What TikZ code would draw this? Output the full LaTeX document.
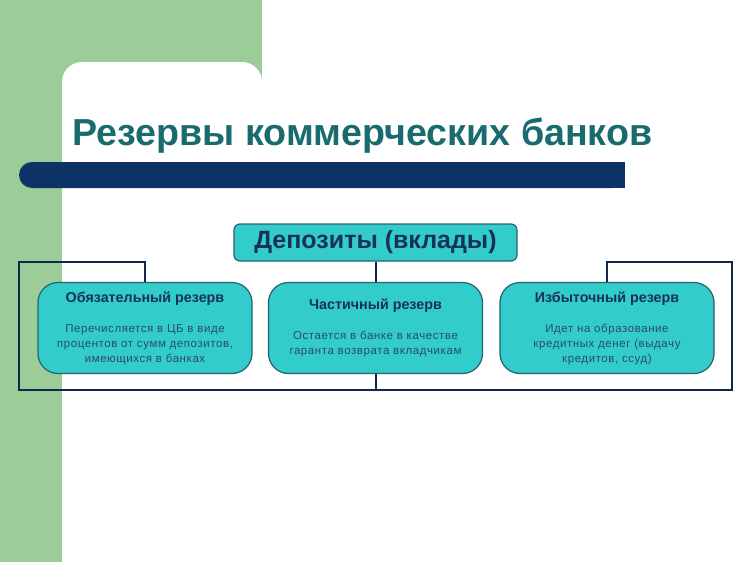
\documentclass[tikz,border=0pt]{standalone}
\usepackage{fontspec}
\setmainfont{Liberation Sans}
\definecolor{greenbg}{HTML}{9CCC98}
\definecolor{barcol}{HTML}{0B3366}
\definecolor{titlecol}{HTML}{1A6B6E}
\definecolor{boxfill}{HTML}{33CCCC}
\definecolor{boxline}{HTML}{2A6068}
\definecolor{linecol}{HTML}{10284A}
\definecolor{headcol}{HTML}{173158}
\definecolor{bodycol}{HTML}{2A4A70}
\begin{document}
\begin{tikzpicture}[x=1pt,y=-1pt,
    link/.style={draw=linecol,line width=2pt},
    reserve/.style={shape=rectangle,rounded corners=20pt,draw=boxline,line width=1.2pt,fill=boxfill,
      minimum width=214pt,minimum height=91pt,align=center,text=bodycol,
      font=\fontsize{11.5}{15}\selectfont\addfontfeature{LetterSpace=5}}]
        \useasboundingbox (0,0) rectangle (750,562);
        \fill[greenbg] (0,0) rectangle (262,82);
        \fill[greenbg] (0,0) rectangle (62,562);
        \fill[white,rounded corners=20pt] (62,62) rectangle (262,120);
        \node[anchor=base west,text=titlecol,font=\fontsize{37.6}{40}\selectfont\bfseries] (title) at (69,145) {Резервы коммерческих банков};
        \fill[barcol,rounded corners=13pt] (19,162) rectangle (625,188);
        \fill[barcol] (45,162) rectangle (625,188);
        \node[shape=rectangle,rounded corners=6pt,draw=boxline,line width=1.2pt,fill=boxfill,
          minimum width=283pt,minimum height=37pt,text=headcol,font=\fontsize{25}{27}\selectfont\bfseries] (dep) at (375.5,242.5) {Депозиты (вклады)};
        \node[reserve] (obyaz) at (145,328) {{\color{headcol}\fontsize{14.3}{16}\selectfont\bfseries\addfontfeature{LetterSpace=0} Обязательный резерв}\\[15pt]
          Перечисляется в ЦБ в виде\\процентов от сумм депозитов,\\имеющихся в банках};
        \node[reserve] (chast) at (375.5,328) {{\color{headcol}\fontsize{14.3}{16}\selectfont\bfseries\addfontfeature{LetterSpace=0} Частичный резерв}\\[15pt]
          Остается в банке в качестве\\гаранта возврата вкладчикам};
        \node[reserve] (izb) at (607,328) {{\color{headcol}\fontsize{14.3}{16}\selectfont\bfseries\addfontfeature{LetterSpace=0} Избыточный резерв}\\[15pt]
          Идет на образование\\кредитных денег (выдачу\\кредитов, ссуд)};
        \coordinate (tl) at (19,262);
        \coordinate (bl) at (19,390);
        \coordinate (br) at (732,390);
        \coordinate (tr) at (732,262);
        \path [link](dep) edge (chast);
        \draw[link] (obyaz.north) |- (tl) -- (bl) -- (br) -- (tr) -| (izb.north);
        \draw[link] (chast.south) -- (chast.south |- bl);
    \end{tikzpicture}
\end{document}
